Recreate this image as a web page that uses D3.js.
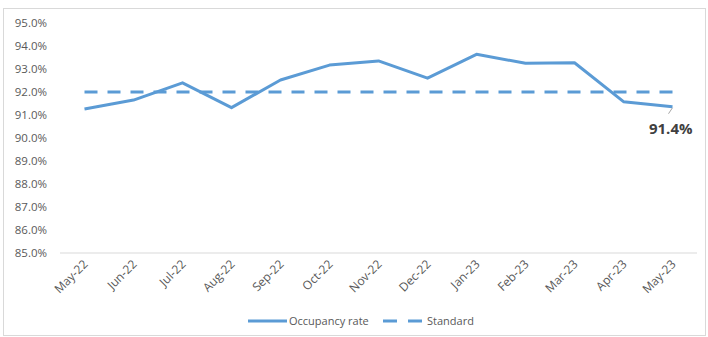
<!DOCTYPE html>
<html><head><meta charset="utf-8">
<script src="https://cdn.jsdelivr.net/npm/d3@7"></script>
<style>body{margin:0;background:#fff}svg{display:block}text{font-family:"Open Sans","Liberation Sans",sans-serif}</style>
</head><body><svg id="c" width="708" height="337"></svg>
<script>
const categories = ["May-22","Jun-22","Jul-22","Aug-22","Sep-22","Oct-22","Nov-22","Dec-22","Jan-23","Feb-23","Mar-23","Apr-23","May-23"];
const occupancy = [91.26, 91.65, 92.4, 91.32, 92.52, 93.17, 93.35, 92.6, 93.64, 93.25, 93.27, 91.58, 91.36];
const standard = [92, 92, 92, 92, 92, 92, 92, 92, 92, 92, 92, 92, 92];
const yTicks = [85,86,87,88,89,90,91,92,93,94,95];
const lastLabel = "91.4%";
const legendNames = ["Occupancy rate", "Standard"];

const svg = d3.select("#c");
const color = "#5B9BD5";
svg.append("rect").attr("x",3.5).attr("y",8.5).attr("width",702).attr("height",327)
  .attr("fill","none").attr("stroke","#D9D9D9");

const x = d3.scaleBand().domain(categories).range([60, 697]);
const y = d3.scaleLinear().domain([85, 95]).range([253, 23]);
const cx = d => x(d) + x.bandwidth()/2;

// y axis labels
const ya = svg.append("g").attr("transform","translate(47,0)")
  .call(d3.axisLeft(y).tickValues(yTicks).tickSize(0).tickPadding(0).tickFormat(d => d.toFixed(1) + "%"));
ya.select(".domain").remove();
ya.selectAll("text").attr("fill","#595959").style("font-size","11.5px").style("font-family","'Open Sans',sans-serif");

// baseline
svg.append("line").attr("x1",60).attr("x2",697).attr("y1",y(85)).attr("y2",y(85))
  .attr("stroke","#D9D9D9").attr("stroke-width",1);

// x axis labels
const xa = svg.append("g").attr("transform",`translate(0,${y(85)})`)
  .call(d3.axisBottom(x).tickSize(0).tickPadding(0));
xa.select(".domain").remove();
xa.selectAll("text").attr("fill","#595959").style("font-size","12px")
  .attr("text-anchor","end").attr("dy",0).attr("y",0)
  .attr("transform","translate(4,12) rotate(-45)");

const line = d3.line().x((d,i) => cx(categories[i])).y(d => y(d));
svg.append("path").datum(standard).attr("d", line).attr("fill","none")
  .attr("stroke",color).attr("stroke-width",3).attr("stroke-dasharray","13,10");
svg.append("path").datum(occupancy).attr("d", line).attr("fill","none")
  .attr("stroke",color).attr("stroke-width",3).attr("stroke-linejoin","round");

// data label
const lx = cx(categories[12]), ly = y(occupancy[12]);
svg.append("line").attr("x1",lx).attr("y1",ly+1).attr("x2",lx-4).attr("y2",ly+7)
  .attr("stroke","#A6A6A6").attr("stroke-width",1);
svg.append("text").attr("x",lx+20).attr("y",ly+27).attr("text-anchor","end")
  .attr("fill","#404040").style("font-size","15px").style("font-weight","bold").text(lastLabel);

// legend
const lg = svg.append("g");
lg.append("line").attr("x1",248).attr("x2",287).attr("y1",321).attr("y2",321)
  .attr("stroke",color).attr("stroke-width",3);
lg.append("text").attr("x",289).attr("y",325).attr("fill","#595959").style("font-size","11px").text(legendNames[0]);
lg.append("line").attr("x1",383).attr("x2",422).attr("y1",321).attr("y2",321)
  .attr("stroke",color).attr("stroke-width",3).attr("stroke-dasharray","14,11");
lg.append("text").attr("x",427).attr("y",325).attr("fill","#595959").style("font-size","11px").text(legendNames[1]);
</script></body></html>
